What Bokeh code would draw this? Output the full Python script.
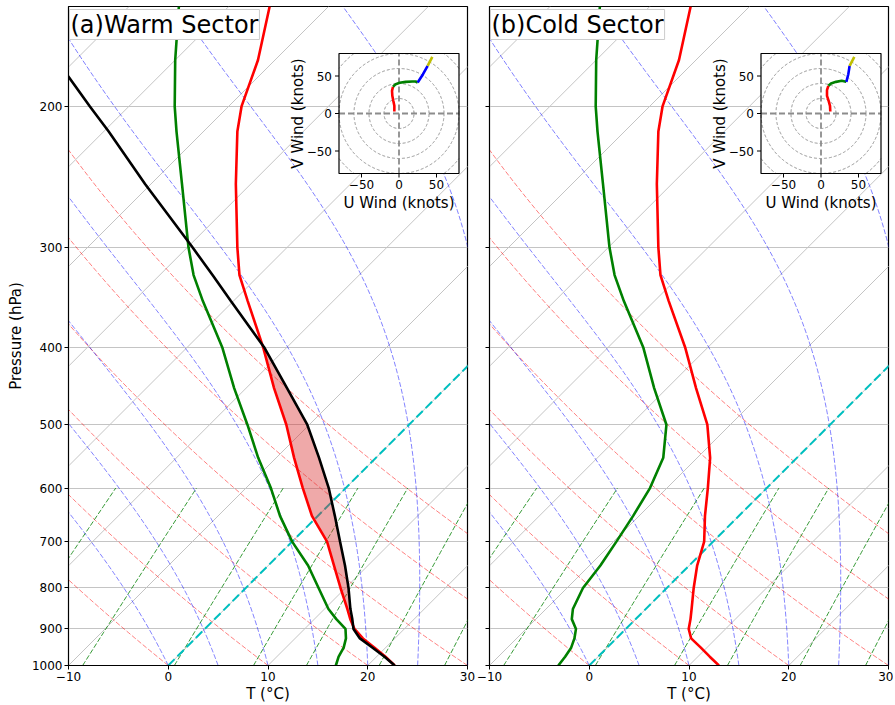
import numpy as np
from bokeh.plotting import figure
from bokeh.models import Range1d, FixedTicker, CustomJSTickFormatter, Label
from bokeh.layouts import row
from bokeh.embed import file_html
from bokeh.resources import INLINE
from bokeh.core.properties import value

# ---------------- sounding data ----------------
pressure = [1000, 975, 950, 925, 900, 875, 850, 800, 750, 700, 650, 600, 550,
            500, 450, 400, 350, 325, 300, 250, 215, 200, 175, 150]

warm_temperature = [22.7, 20.9, 18.9, 16.8, 15.0, 13.6, 12.3, 9.5, 6.6, 3.5, -0.6, -4.3, -8.2,
                    -12.3, -17.2, -22.4, -28.6, -32.0, -35.0, -41.5, -46.6, -48.7, -51.7, -55.9]
warm_dewpoint = [16.8, 16.2, 15.8, 15.1, 14.1, 12.2, 10.4, 7.3, 4.0, 0.0, -3.8, -7.5, -11.8,
                 -16.2, -21.2, -26.5, -33.1, -36.6, -39.9, -46.9, -52.7, -55.4, -60.0, -65.0]
warm_parcel = [22.7, 20.8, 18.7, 16.5, 14.9, 13.8, 12.6, 10.3, 7.7, 4.8, 1.7, -1.7, -5.7,
               -10.2, -15.9, -22.3, -30.3, -34.7, -39.5, -50.6, -59.5, -63.9, -71.9, -80.3]

cold_temperature = [13.0, 11.2, 9.4, 7.5, 6.3, 5.5, 4.6, 2.7, 0.8, -0.9, -3.4, -5.9, -8.7,
                    -12.3, -17.1, -22.3, -28.6, -32.0, -35.0, -41.5, -46.6, -48.7, -51.7, -55.9]
cold_dewpoint = [-3.1, -3.3, -3.6, -4.2, -5.0, -6.4, -7.3, -8.4, -8.9, -9.7, -10.6, -11.7, -13.4,
                 -16.4, -21.3, -26.5, -33.1, -36.6, -39.9, -46.9, -52.7, -55.4, -60.0, -65.0]

# CAPE layer (LFC .. EL) of the warm-sector parcel, hPa
warm_cape_layer = (850, 400)

# hodographs (knots), one list per height layer
hodo_colors = ["red", "green", "blue", "#bfbf00"]
warm_hodo_u = [[-6.2, -6.2, -7.6, -8.9, -9.3, -8.0],
               [-8.0, -4.4, 0.9, 8.9, 17.8, 22.2, 24.9],
               [24.9, 32.0, 38.2],
               [38.2, 44.4]]
warm_hodo_v = [[2.7, 10.2, 16.9, 23.6, 30.2, 35.6],
               [35.6, 39.1, 40.9, 42.2, 42.7, 42.7, 41.3],
               [41.3, 52.4, 63.6],
               [63.6, 75.6]]
cold_hodo_u = [[12.4, 12.0, 10.2, 8.0, 8.0, 9.8],
               [9.8, 13.3, 20.0, 27.6, 32.0, 33.8],
               [33.8, 36.4, 38.2],
               [38.2, 44.4]]
cold_hodo_v = [[2.7, 10.2, 16.9, 23.6, 31.1, 36.9],
               [36.9, 40.0, 42.2, 43.6, 42.7, 42.2],
               [42.2, 52.4, 63.6],
               [63.6, 75.6]]

x_ticks = [-10, 0, 10, 20, 30]
p_ticks = [200, 300, 400, 500, 600, 700, 800, 900, 1000]
hodo_ticks = [-50, 0, 50]
hodo_tick_labels = ["\u221250", "0", "50"]

# ---------------- geometry ----------------
FONT = "DejaVu Sans"
XMIN, XMAX = -10.0, 30.0
PTOP = 150.0
YMAX = np.log(1000.0 / PTOP)
FW, FH = 399, 659
PX_X = FW / (XMAX - XMIN)
PX_Y = FH / YMAX
K = PX_Y / PX_X  # 45 degree skew

Rd, Cp, Lv, EPS = 287.04749, 1004.6662, 2.50084e6, 0.621957


def lnp(p):
    return np.log(1000.0 / np.asarray(p, dtype=float))


def skew(t, p):
    return np.asarray(t, dtype=float) + K * lnp(p)


def px_to_x(px):
    return XMIN + px / PX_X


def px_to_y(py):
    return YMAX - py / PX_Y


# ---------------- thermodynamic reference lines ----------------
P_fine = np.linspace(1000.0, PTOP, 200)
Y_fine = lnp(P_fine)

dry_t0 = np.arange(-40, 51, 10)
dry_xs = [skew((t + 273.15) * (P_fine / 1000.0) ** (Rd / Cp) - 273.15, P_fine) for t in dry_t0]


def es(tk):
    return 6.112 * np.exp(17.67 * (tk - 273.15) / (tk - 29.65))


def dtdp(p, tk):
    e = es(tk)
    rs = EPS * e / np.maximum(p - e, 1.0)
    return (Rd * tk + Lv * rs) / (Cp + Lv * Lv * rs * EPS / (Rd * tk * tk)) / p


moist_t0 = np.concatenate((np.arange(-40, 0, 10), np.arange(0, 31, 5))).astype(float)
P_m = np.linspace(1000.0, PTOP, 341)
T = moist_t0 + 273.15
moist_T = [T.copy()]
for i in range(len(P_m) - 1):
    p0, p1 = P_m[i], P_m[i + 1]
    h = p1 - p0
    k1 = dtdp(p0, T)
    k2 = dtdp(p0 + h / 2, T + h / 2 * k1)
    k3 = dtdp(p0 + h / 2, T + h / 2 * k2)
    k4 = dtdp(p1, T + h * k3)
    T = T + h / 6 * (k1 + 2 * k2 + 2 * k3 + k4)
    moist_T.append(T.copy())
moist_T = np.array(moist_T).T - 273.15
moist_xs = [skew(row_t, P_m) for row_t in moist_T]

mix_w = np.array([0.0004, 0.001, 0.002, 0.004, 0.007, 0.01, 0.016, 0.024, 0.032])
P_mix = np.linspace(1000.0, 600.0, 50)
e_mix = P_mix[None, :] * mix_w[:, None] / (EPS + mix_w[:, None])
ln_e = np.log(e_mix / 6.112)
td_mix = 243.5 * ln_e / (17.67 - ln_e)
mix_xs = [skew(r, P_mix) for r in td_mix]

iso_t = np.arange(-110, 31, 10)


def style_axis(ax):
    ax.major_tick_out = 4
    ax.major_tick_in = 0
    ax.minor_tick_out = 0
    ax.minor_tick_in = 0
    ax.axis_line_color = "black"
    ax.major_tick_line_color = "black"
    ax.major_label_text_font = FONT
    ax.major_label_text_font_size = "12px"
    ax.major_label_text_color = "black"
    ax.axis_label_text_font = FONT
    ax.axis_label_text_font_size = "15px"
    ax.axis_label_text_font_style = "normal"
    ax.axis_label_text_color = "black"
    ax.major_label_standoff = 2
    ax.axis_label_standoff = 1


def panel(title, temp, dewp, parcel, hu, hv, left_b, right_b, show_y, inset_left):
    p = figure(frame_width=FW, frame_height=FH,
               x_range=Range1d(XMIN, XMAX), y_range=Range1d(0, YMAX),
               output_backend="svg", toolbar_location=None,
               min_border_left=left_b, min_border_right=right_b,
               min_border_top=6, min_border_bottom=0,
               background_fill_color="white", border_fill_color="white")
    p.outline_line_color = "black"
    p.outline_line_width = 1.2
    p.xgrid.visible = False
    yt = list(lnp(p_ticks))
    p.xaxis.ticker = FixedTicker(ticks=x_ticks)
    p.yaxis.ticker = FixedTicker(ticks=yt)
    p.ygrid.ticker = FixedTicker(ticks=yt)
    p.ygrid.grid_line_color = "#c4c4c4"
    p.ygrid.grid_line_width = 1.1
    p.xaxis.formatter = CustomJSTickFormatter(
        code="return (tick < 0 ? '\u2212' : '') + Math.abs(Math.round(tick));")
    if show_y:
        p.yaxis.formatter = CustomJSTickFormatter(
            code="return String(Math.round(1000*Math.exp(-tick)));")
        p.yaxis.axis_label = "Pressure (hPa)"
    else:
        p.yaxis.formatter = CustomJSTickFormatter(code="return '';")
    p.xaxis.axis_label = "T (\u00b0C)"
    style_axis(p.xaxis[0])
    style_axis(p.yaxis[0])
    p.yaxis[0].axis_label_standoff = 4

    # isotherms (skewed grid)
    p.multi_line(xs=[[t, t + K * YMAX] for t in iso_t], ys=[[0, YMAX]] * len(iso_t),
                 line_color="#c4c4c4", line_width=1.0)
    # dry adiabats
    p.multi_line(xs=dry_xs, ys=[Y_fine] * len(dry_xs), line_color="red", line_alpha=0.5,
                 line_width=1.0, line_dash="5 2")
    # moist adiabats
    p.multi_line(xs=moist_xs, ys=[lnp(P_m)] * len(moist_xs), line_color="blue", line_alpha=0.5,
                 line_width=1.0, line_dash="5 2")
    # mixing ratio lines
    p.multi_line(xs=mix_xs, ys=[lnp(P_mix)] * len(mix_xs), line_color="#008000", line_alpha=0.8,
                 line_width=1.0, line_dash="5 2")
    # 0 degC isotherm
    p.line(x=[0, K * YMAX], y=[0, YMAX], line_color="#00bfbf", line_width=2, line_dash="9 4")

    pr = np.asarray(pressure, dtype=float)
    if parcel is not None:
        lo, hi = warm_cape_layer
        m = (pr <= lo) & (pr >= hi)
        tt = np.asarray(temp, dtype=float)[m]
        pp = np.asarray(parcel, dtype=float)[m]
        p.harea(y=lnp(pr[m]), x1=skew(tt, pr[m]), x2=skew(np.maximum(pp, tt), pr[m]),
                fill_color="#d62728", fill_alpha=0.4)
    p.line(skew(temp, pr), lnp(pr), line_color="red", line_width=2.6)
    p.line(skew(dewp, pr), lnp(pr), line_color="#008000", line_width=2.6)
    if parcel is not None:
        p.line(skew(parcel, pr), lnp(pr), line_color="black", line_width=2.6)

    # ---------- hodograph inset ----------
    KN = 160.0 / 120.0  # knots per pixel in the inset
    sub = p.subplot(x_source=Range1d(-80, 80), y_source=Range1d(-80, 80),
                    x_target=Range1d(px_to_x(inset_left), px_to_x(inset_left + 120)),
                    y_target=Range1d(px_to_y(167), px_to_y(47)))
    sub.quad(left=[-80], right=[80], bottom=[-80], top=[80], fill_color="white", line_color=None)
    ang = np.linspace(0, 2 * np.pi, 2000)
    ring_xs, ring_ys = [], []
    for r in range(20, 141, 20):
        cx, cy = r * np.cos(ang), r * np.sin(ang)
        out = (np.abs(cx) > 80) | (np.abs(cy) > 80)
        cx = np.where(out, np.nan, cx)
        cy = np.where(out, np.nan, cy)
        ring_xs.append(cx)
        ring_ys.append(cy)
    sub.multi_line(xs=ring_xs, ys=ring_ys, line_color="#808080", line_width=0.9, line_dash="3 2")
    sub.segment(x0=[-80, 0], y0=[0, -80], x1=[80, 0], y1=[0, 80],
                line_color="#8c8c8c", line_width=1.8, line_dash="6 3")
    for c, u, v in zip(hodo_colors, hu, hv):
        sub.line(u, v, line_color=c, line_width=2.6)
    sub.quad(left=[-80], right=[80], bottom=[-80], top=[80], fill_color=None,
             line_color="black", line_width=1.2)
    tl = 4 * KN
    n = len(hodo_ticks)
    sub.segment(x0=hodo_ticks, y0=[-80] * n, x1=hodo_ticks, y1=[-80 - tl] * n, line_color="black")
    sub.segment(x0=[-80] * n, y0=hodo_ticks, x1=[-80 - tl] * n, y1=hodo_ticks, line_color="black")
    sub.text(x=hodo_ticks, y=[-80 - 11 * KN] * n, text=hodo_tick_labels, text_align="center",
             text_baseline="middle", text_font=value(FONT), text_font_size="12px", text_color="black")
    sub.text(x=[-80 - 7 * KN] * n, y=hodo_ticks, text=hodo_tick_labels, text_align="right",
             text_baseline="middle", text_font=value(FONT), text_font_size="12px", text_color="black")
    sub.text(x=[0], y=[-80 - 29 * KN], text=["U Wind (knots)"], text_align="center",
             text_baseline="middle", text_font=value(FONT), text_font_size="15px", text_color="black")
    sub.text(x=[-80 - 41 * KN], y=[0], text=["V Wind (knots)"], angle=np.pi / 2, text_align="center",
             text_baseline="middle", text_font=value(FONT), text_font_size="15px", text_color="black")

    p.add_layout(Label(x=px_to_x(1), y=px_to_y(3), text=title, text_font=FONT,
                       text_font_size="24px", text_color="black", anchor="top_left",
                       background_fill_color="white", border_line_color="#cccccc",
                       border_line_width=1, padding=1))
    return p


pa = panel("(a)Warm Sector", warm_temperature, warm_dewpoint, warm_parcel,
           warm_hodo_u, warm_hodo_v, 68, 8, True, 270.5)
pb = panel("(b)Cold Sector", cold_temperature, cold_dewpoint, None,
           cold_hodo_u, cold_hodo_v, 14, 5, False, 271.5)

layout = row(pa, pb)
open("out.html", "w").write(file_html(layout, INLINE))
